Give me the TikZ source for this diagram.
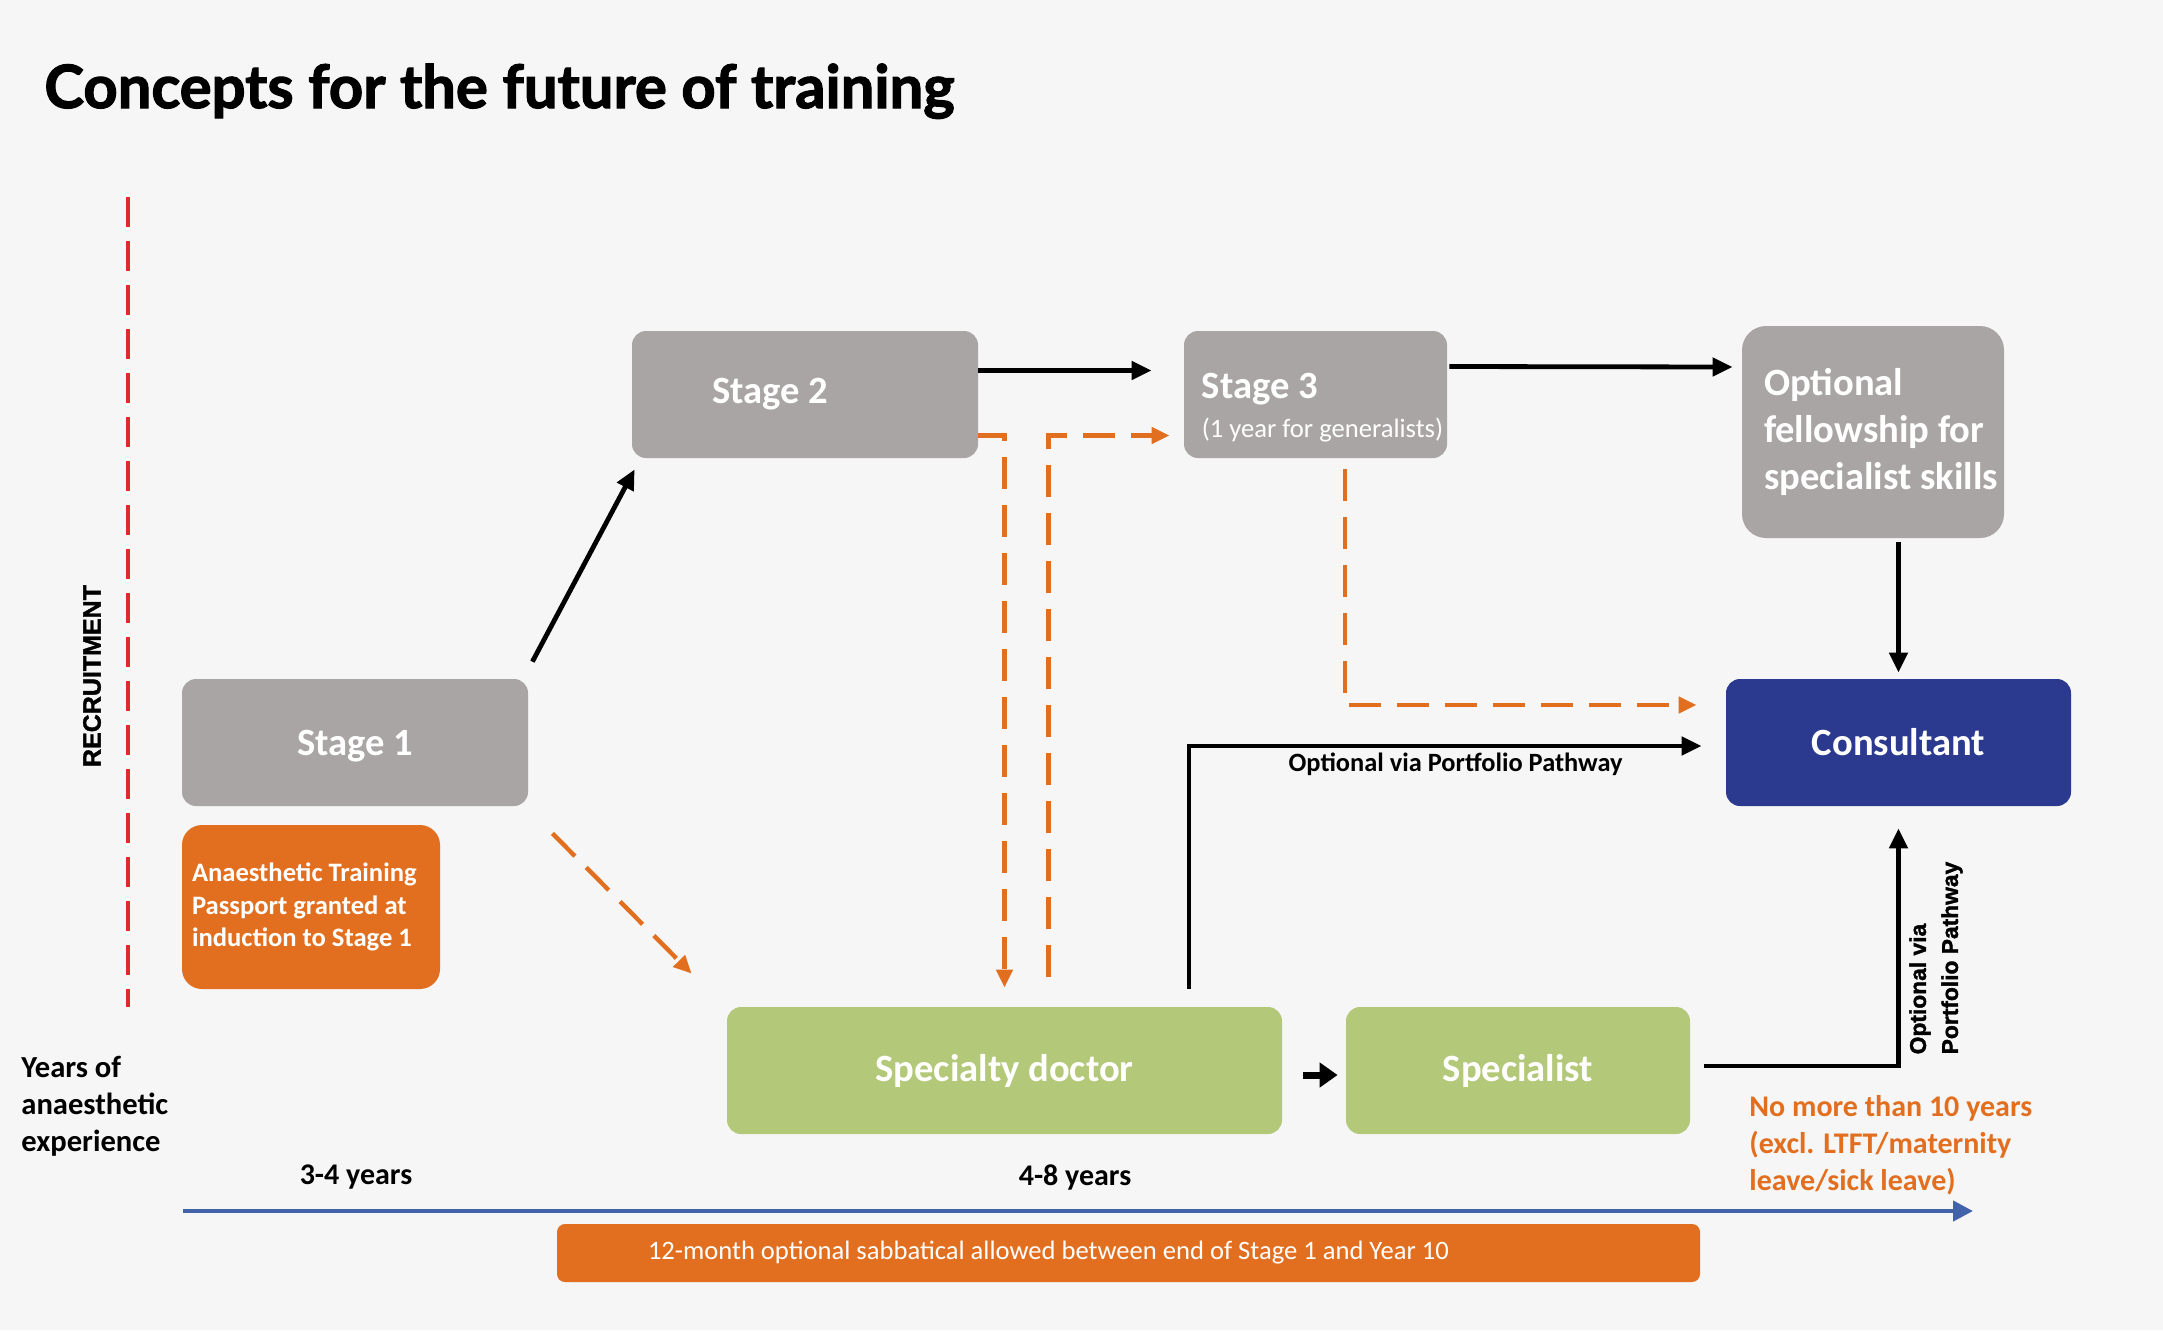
\documentclass[tikz,border=0pt]{standalone}
\usepackage{graphicx}
\usepackage{fontspec}
\setmainfont{Carlito}
\newfontfamily\arialfont{Liberation Sans}[BoldFeatures={FakeBold=1.5}]
\newfontfamily\titlefont{Lato}[BoldFeatures={FakeBold=2}]
\usetikzlibrary{arrows.meta,calc}
\definecolor{bgc}{HTML}{F6F6F6}
\definecolor{graybox}{HTML}{A9A5A5}
\definecolor{orng}{HTML}{E26F1F}
\definecolor{grn}{HTML}{B3C878}
\definecolor{navy}{HTML}{2B3A8E}
\definecolor{redl}{HTML}{DD2A2E}
\definecolor{bluel}{HTML}{4262AA}
\newcommand\fixl[1]{\makebox[\linewidth][l]{#1}}
\begin{document}
\begin{tikzpicture}[x=0.5pt,y=-0.5pt,
  box/.style={rounded corners=7pt, text=white, font=\bfseries\fontsize{19.3}{23}\selectfont, inner sep=0pt, minimum height=63.5pt},
  blk/.style={draw=black, line width=2.4pt, -{Triangle[length=10pt,width=9pt]}},
  odash/.style={draw=orng, line width=2.2pt, dash pattern=on 16pt off 8pt, -{Triangle[length=9pt,width=8pt]}},
  lbl/.style={inner sep=0pt, font=\bfseries\fontsize{15}{18.5}\selectfont}]
\fill[bgc] (0,0) rectangle (2163,1330);
\useasboundingbox (0,0) rectangle (2163,1330);

% title
\node[anchor=base west, inner sep=0pt] (title) at (44,108) {\resizebox{455pt}{!}{\titlefont\bfseries Concepts for the future of training}};

% recruitment line
\coordinate (r1) at (128,197);
\coordinate (r2) at (128,1007);
\draw[redl, line width=2.2pt, dash pattern=on 15pt off 7pt] (r1) -- (r2);
\node[rotate=90, inner sep=0pt, font=\arialfont\bfseries\fontsize{12.5}{15}\selectfont] (rec) at (92,676) {RECRUITMENT};

% boxes
\node[box, fill=graybox, minimum width=173pt] (s1) at (355,742.5) {\raisebox{-2pt}[\height][\depth]{Stage 1}};
\node[box, fill=orng, rounded corners=10pt, minimum height=82pt, text width=119pt, inner xsep=5pt, align=flush left, font=\bfseries\fontsize{13.3}{16.2}\selectfont] (pass) at (311,907) {Anaesthetic Training\\Passport granted at\\induction to Stage 1};
\node[box, fill=graybox, text width=93pt, inner xsep=40pt, align=flush left] (s2) at (805,394.5) {Stage 2};
\node[box, fill=graybox, minimum width=131.5pt] (s3) at (1315.5,394.5) {\hspace*{7pt}\raisebox{-7pt}[\height][\depth]{\begin{tabular}{@{}l@{}}Stage 3\\[-3.5pt]{\mdseries\fontsize{13.3}{15}\selectfont (1 year for generalists)}\end{tabular}}};
\node[box, fill=graybox, rounded corners=12pt, minimum height=106pt, text width=109pt, inner xsep=11pt, align=flush left, font=\bfseries\fontsize{19.3}{23.5}\selectfont] (fel) at (1873,432) {\fixl{Optional}\\\fixl{fellowship for}\\\fixl{specialist skills}};
\node[box, fill=navy, minimum width=172.5pt] (cons) at (1898.5,742.5) {Consultant};
\node[box, fill=grn, minimum width=277.5pt] (spec) at (1004.5,1070.5) {Specialty doctor};
\node[box, fill=grn, minimum width=172pt] (spl) at (1518,1070.5) {Specialist};
\node[box, fill=orng, rounded corners=4pt, minimum height=29pt, text width=480.5pt, inner xsep=45.5pt, align=flush left, font=\fontsize{13.3}{15}\selectfont] (sab) at (1128.5,1253) {12-month optional sabbatical allowed between end of Stage 1 and Year 10};

% labels
\node[lbl, anchor=west, align=flush left, font=\bfseries\fontsize{15.3}{18.5}\selectfont] (yrs) at (21,1106) {Years of\\anaesthetic\\experience};
\node[lbl] (y34) at (356,1177) {3-4 years};
\node[lbl] (y48) at (1075,1177) {4-8 years};
\node[lbl, anchor=west, align=flush left, text=orng] (nm) at (1749,1145) {No more than 10 years\\(excl. LTFT/maternity\\leave/sick leave)};

% axis
\coordinate (a1) at (183,1211);
\coordinate (a2) at (1973,1211);
\draw[bluel, line width=2.2pt, -{Triangle[length=10pt,width=10pt]}] (a1) -- (a2);

% black arrows
\draw[blk] ([shift={(4,-17)}]s1.north east) -- ([shift={(3,11)}]s2.south west);
\draw[blk] ([shift={(0,-24)}]s2.east) -- ([shift={(-32,-24)}]s3.west);
\draw[blk] ([shift={(2,-28)}]s3.east) -- ([shift={(-9,-65)}]fel.west);
\draw[blk] ([shift={(0,4)}]fel.south -| cons.north) -- ([shift={(0,-6)}]cons.north);
\draw[blk] ([shift={(184.5,-18)}]spec.north) |- node[pos=0.76, below=2.5pt, inner sep=0pt, font=\bfseries\fontsize{13.2}{15}\selectfont] (pplab) {Optional via Portfolio Pathway} ([shift={(-24,3.5)}]cons.west);
\draw[line width=3.5pt, -{Triangle[length=9pt,width=12pt]}] ([shift={(21,4.5)}]spec.east) -- ([shift={(-8,4.5)}]spl.west);
\draw[blk] ([shift={(14,-4.5)}]spl.east) -| ([shift={(0,22)}]cons.south);
\node[rotate=90, align=flush left, inner sep=0pt, font=\arialfont\bfseries\fontsize{11.4}{16}\selectfont] (ovl) at (1936,958) {Optional via\\Portfolio Pathway};

% orange dashed arrows
\draw[odash] ([shift={(24,27)}]s1.south east) -- ([shift={(-35,-33)}]spec.north west);
\draw[odash] ([shift={(0,41)}]s2.east) -| ([shift={(0,-19)}]spec.north);
\draw[odash] ([shift={(44,-30)}]spec.north) |- ([shift={(-14,41)}]s3.west);
\draw[odash] ([shift={(29.5,11)}]s3.south) |- ([shift={(-29,-37.5)}]cons.west);
\end{tikzpicture}
\end{document}
